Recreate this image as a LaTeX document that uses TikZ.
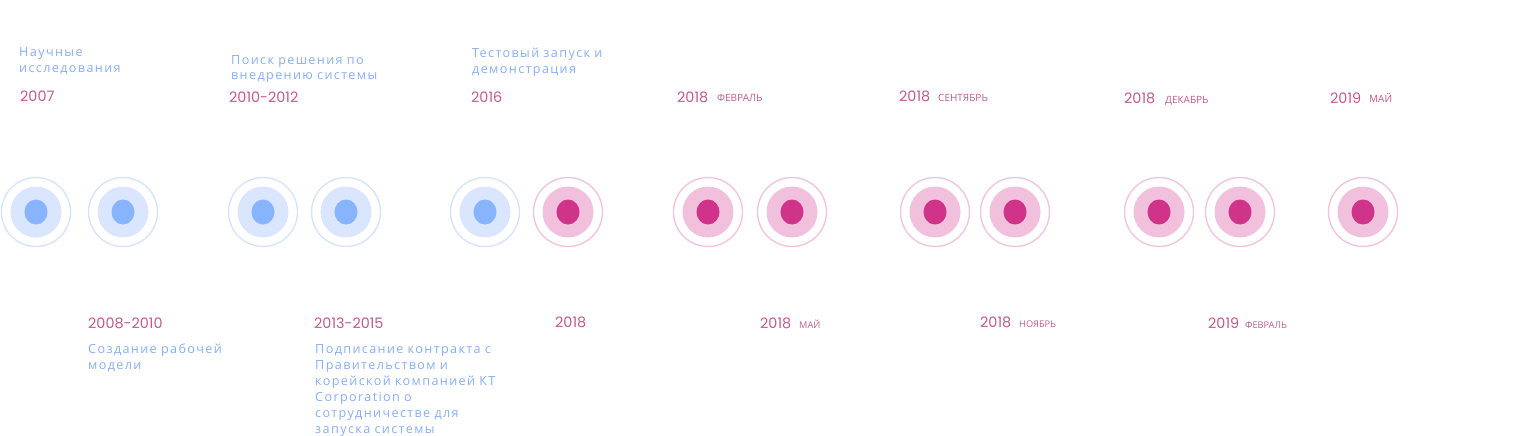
\documentclass[tikz,border=0pt]{standalone}
\usepackage{fontspec}
\usetikzlibrary{shapes.geometric}
\newfontfamily\descfont[LetterSpace=11,WordSpace=1.3]{Open Sans}
\newfontfamily\yearfont{Poppins}
\newfontfamily\monthfont{Open Sans}
\definecolor{yearcol}{HTML}{BF5B8D}
\definecolor{desccol}{HTML}{86AEF7}
\definecolor{ringblue}{HTML}{D6E4FB}
\definecolor{diskblue}{HTML}{D9E6FE}
\definecolor{dotblue}{HTML}{88B3FD}
\definecolor{ringpink}{HTML}{F2C4DD}
\definecolor{diskpink}{HTML}{F0C0DC}
\definecolor{dotpink}{HTML}{D0338A}
\tikzset{
  ringB/.style={circle, draw=ringblue, line width=1.4pt, minimum size=69pt, inner sep=0pt},
  diskB/.style={circle, fill=diskblue, minimum size=51pt, inner sep=0pt},
  dotB/.style={ellipse, fill=dotblue, minimum width=23pt, minimum height=25pt, inner sep=0pt},
  ringP/.style={circle, draw=ringpink, line width=1.4pt, minimum size=69pt, inner sep=0pt},
  diskP/.style={circle, fill=diskpink, minimum size=51pt, inner sep=0pt},
  dotP/.style={ellipse, fill=dotpink, minimum width=23pt, minimum height=25pt, inner sep=0pt},
  yeartext/.style={anchor=base west, inner sep=0pt, text=yearcol, font=\yearfont\fontsize{14.4}{16}\selectfont},
  monthtext/.style={anchor=base west, inner sep=0pt, text=yearcol, font=\monthfont\fontsize{10}{12}\selectfont},
  monthtextb/.style={anchor=base west, inner sep=0pt, text=yearcol, font=\monthfont\fontsize{9.2}{11}\selectfont},
  desctext/.style={anchor=base west, inner sep=0pt, text=desccol, text width=240pt, align=left, font=\descfont\fontsize{12.6}{16}\selectfont},
}
\begin{document}
\begin{tikzpicture}[x=1pt,y=-1pt]
\useasboundingbox (0,0) rectangle (1523,436);
% blue markers
\foreach \n/\x in {b1/36, b2/123, b3/263, b4/346, b5/485} {
  \node[ringB] (\n ring) at (\x,212) {};
  \node[diskB] (\n disk) at (\x,212) {};
  \node[dotB] (\n dot) at (\x,212) {};
}
% pink markers
\foreach \n/\x in {p1/568, p2/708, p3/792, p4/935, p5/1015, p6/1159, p7/1240, p8/1363} {
  \node[ringP] (\n ring) at (\x,212) {};
  \node[diskP] (\n disk) at (\x,212) {};
  \node[dotP] (\n dot) at (\x,212) {};
}
% top descriptions
\node[desctext] (d1) at (19,57) {Научные\\исследования};
\node[desctext] (d3) at (231,64) {Поиск решения по\\внедрению системы};
\node[desctext] (d5) at (472,58) {Тестовый запуск и\\демонстрация};
% top years
\node[yeartext] (y1) at (20,101) {2007};
\node[yeartext] (y3) at (229,102) {2010-2012};
\node[yeartext] (y5) at (471,102) {2016};
\node[yeartext] (y7) at (677,102) {2018};
\node[monthtext] (m7) at (717,101) {ФЕВРАЛЬ};
\node[yeartext] (y9) at (899,101) {2018};
\node[monthtext] (m9) at (938,101) {СЕНТЯБРЬ};
\node[yeartext] (y11) at (1124,103) {2018};
\node[monthtext] (m11) at (1165,103) {ДЕКАБРЬ};
\node[yeartext] (y13) at (1330,103) {2019};
\node[monthtext] (m13) at (1369,102) {МАЙ};
% bottom years
\node[yeartext] (y2) at (88,328) {2008-2010};
\node[yeartext] (y4) at (314,328) {2013-2015};
\node[yeartext] (y6) at (555,327) {2018};
\node[yeartext] (y8) at (760,328) {2018};
\node[monthtextb] (m8) at (799,328) {МАЙ};
\node[yeartext] (y10) at (980,327) {2018};
\node[monthtextb] (m10) at (1019,327) {НОЯБРЬ};
\node[yeartext] (y12) at (1208,328) {2019};
\node[monthtextb] (m12) at (1245,328) {ФЕВРАЛЬ};
% bottom descriptions
\node[desctext] (d2) at (88,353) {Создание рабочей\\модели};
\node[desctext] (d4) at (315,353) {Подписание контракта с\\Правительством и\\корейской компанией КТ\\Corporation о\\сотрудничестве для\\запуска системы};
\end{tikzpicture}
\end{document}
